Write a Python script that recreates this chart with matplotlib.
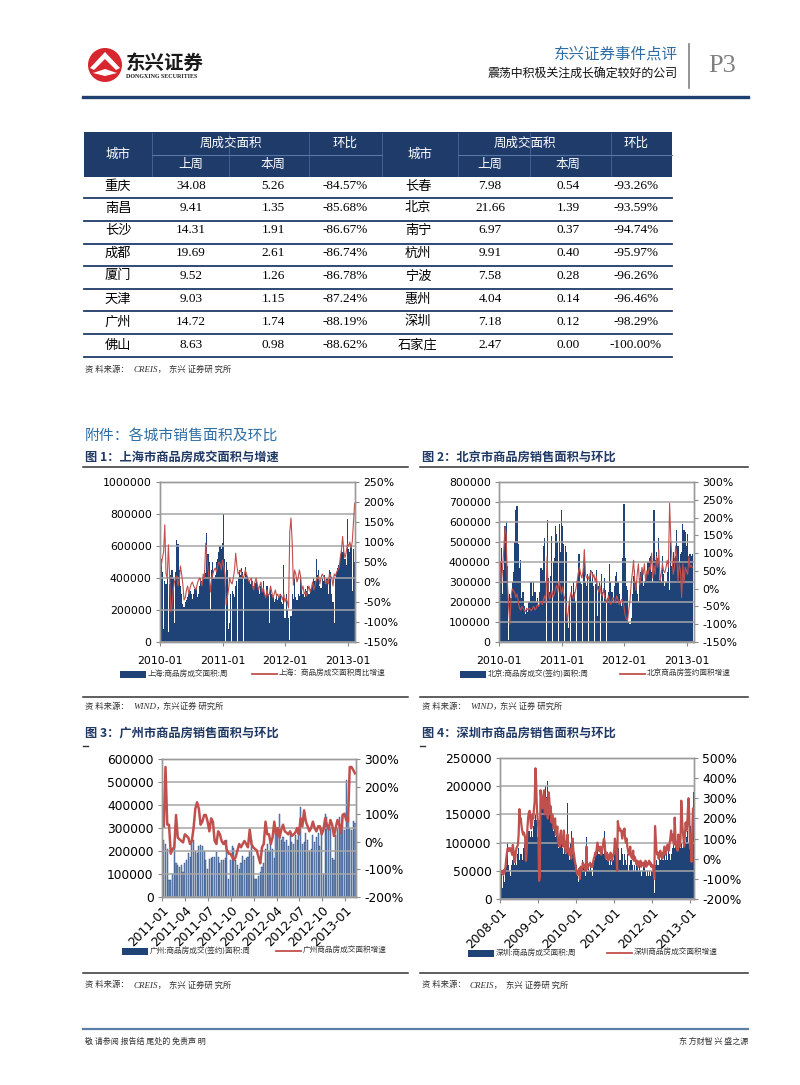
import numpy as np
import pandas as pd
import matplotlib
matplotlib.use('Agg')
import matplotlib.pyplot as plt
import matplotlib.dates as mdates
from matplotlib.patches import Rectangle, Ellipse, Polygon
from matplotlib.lines import Line2D
from matplotlib.ticker import FuncFormatter

# ---- table data ----
cities_l = ['重庆', '南昌', '长沙', '成都', '厦门', '天津', '广州', '佛山']
last_l = [34.08, 9.41, 14.31, 19.69, 9.52, 9.03, 14.72, 8.63]
this_l = [5.26, 1.35, 1.91, 2.61, 1.26, 1.15, 1.74, 0.98]
chg_l = [-84.57, -85.68, -86.67, -86.74, -86.78, -87.24, -88.19, -88.62]
cities_r = ['长春', '北京', '南宁', '杭州', '宁波', '惠州', '深圳', '石家庄']
last_r = [7.98, 21.66, 6.97, 9.91, 7.58, 4.04, 7.18, 2.47]
this_r = [0.54, 1.39, 0.37, 0.40, 0.28, 0.14, 0.12, 0.00]
chg_r = [-93.26, -93.59, -94.74, -95.97, -96.26, -96.46, -98.29, -100.00]

# ---- weekly chart data (area in 10k m2, growth in %) ----
# Shanghai, weeks from 2010-01-08
sh_area = [52, 44, 8, 38, 36, 40, 6, 36, 42, 45, 40, 12, 44, 64, 61, 45, 35, 30, 24, 22,
           25, 26, 28, 30, 32, 30, 27, 30, 33, 34, 28, 30, 35, 40, 38, 42, 45, 43, 68, 55,
           50, 20, 45, 50, 40, 42, 50, 52, 56, 60, 58, 62,
           80, 52, 50, 45, 8, 12, 30, 32, 30, 28, 35, 38, 40, 45, 42, 46, 44, 40, 47, 42,
           40, 38, 36, 40, 38, 35, 37, 38, 36, 34, 30, 35, 32, 38, 30, 28, 35, 30, 12, 35,
           30, 28, 25, 27, 30, 26, 28, 30, 25, 24, 48, 15,
           30, 20, 15, 1, 16, 30, 27, 40, 28, 26, 30, 29, 42, 35, 30, 28, 33, 32, 35, 30,
           33, 34, 36, 40, 38, 52, 42, 45, 35, 34, 40, 38, 42, 36, 40, 30, 45, 44, 30, 25,
           12, 40, 44, 46, 48, 55, 58, 56, 60, 52, 48, 77,
           58, 56, 60, 32, 58, 50]
sh_pct = [40, 60, 75, 143, 20, 10, 93, 15, -75, -60, -20, 0, 10, 15, -10, 5, 40, 20, -5, -45,
          -40, -20, -10, -30, -15, -5, 0, -10, -15, -20, -5, 5, 10, 0, -10, 20, 10, 97, 60, 30,
          10, -25, 10, 20, 30, 35, 25, 40, 50, 45, 30, 55,
          40, 20, -58, -40, -20, 10, 0, -5, 10, 30, 72, 40, 20, 25, 30, 20, 10, 15, 30, 20,
          10, 0, 5, 10, -10, -20, 0, 10, -5, -20, -10, 0, -25, -15, -30, -40, -20, -35, -30, -10,
          -25, -40, -30, -20, -35, -30, -40, -30, -35, -45, -30, -50,
          -40, -50, -65, 125, 160, 100, -8, 30, 20, 0, 10, 30, 15, -20, -10, -30, -25, -35, -20, -10,
          -25, -15, 0, -20, -10, 5, 10, 15, -5, 10, 20, 15, 10, -5, 5, -5, 20, 15, 10, -10,
          20, 15, 25, 30, 35, 60, 80, 114, 76, 60, 75, 95,
          90, 100, 85, 100, 150, 197]

# Beijing, weeks from 2010-01-08
bj_area = [40, 47, 24, 36, 58, 60, 38, 1, 24, 22, 30, 35, 50, 66, 68, 49, 37, 41, 22, 25,
           18, 14, 17, 15, 20, 30, 30, 23, 30, 25, 20, 22, 18, 25, 37, 36, 48, 52, 30, 61,
           32, 25, 33, 53, 40, 42, 58, 54, 50, 59, 45, 66,
           58, 49, 48, 45, 10, 7, 20, 28, 23, 30, 25, 20, 32, 44, 44, 30, 29, 37, 44, 30,
           28, 34, 33, 36, 30, 35, 28, 29, 36, 13, 28, 30, 34, 25, 20, 32, 26, 22, 25, 39,
           30, 25, 20, 28, 33, 35, 30, 24, 20, 18, 42, 69,
           42, 28, 26, 10, 9, 12, 24, 33, 36, 30, 24, 20, 32, 35, 36, 28, 30, 33, 35, 40,
           42, 43, 35, 30, 66, 41, 45, 42, 52, 31, 30, 43, 34, 28, 30, 35, 42, 26, 50, 38,
           45, 42, 43, 56, 48, 40, 44, 45, 59, 56, 55, 48,
           54, 43, 44, 43, 44]
bj_pct = [75, 15, 60, 110, 175, 150, 15, -50, -100, -25, 0, -5, -10, -25, -15, -35, -55, -60, -50, -55,
          -60, -65, -55, -60, -55, -58, -62, -55, -50, -60, -55, -45, -50, -40, -35, -45, -30, -20, -40, 90,
          -10, -30, -20, -5, -25, -15, 0, 10, -10, 20, 5, -15,
          5, -20, -30, -60, -90, -50, -25, -10, -20, -30, -15, 0, 20, 45, 60, 40, 30, 50, 110, 40,
          30, 35, 25, 45, 50, 30, 40, 20, 35, 0, -10, 10, -15, -20, 0, -25, -30, -40, -20, -35,
          -45, -30, -25, -40, -35, -20, -30, -45, -40, -30, -35, -50,
          -75, -85, -90, -60, -35, 15, 45, 80, 20, -5, 40, 70, 10, 30, 60, 40, 70, 20, 50, 40,
          60, 55, 100, 30, 65, 40, 90, 60, 110, 20, 40, 70, 50, 45, 60, 80, 60, 240, 135, 80,
          40, 60, 120, 90, 20, 70, 50, -25, 70, 15, 60, 50,
          40, 90, 60, 65, 60]

# Guangzhou, weeks from 2011-01-07
gz_area = [25, 23, 21, 7.5, 7.5, 10, 24, 15, 14, 13, 14, 11, 15, 16, 19, 17.5, 24, 25, 20, 19,
           22, 22.5, 22, 20, 16, 12, 16.5, 17, 17.5, 17.5, 19.5, 17.5, 15, 16, 16, 17, 25, 8, 16, 22,
           21.5, 16, 14, 12, 15, 18, 16, 17, 17.5, 20, 25, 18,
           8, 8, 9, 11, 13, 15, 21, 23, 20, 25, 21, 17, 28, 29, 36, 25, 26, 24, 25, 22,
           28, 24, 23, 27, 25, 30, 39, 23, 24, 28, 25, 20, 21, 27, 24, 26, 28, 22, 30, 10,
           36, 35, 31, 30, 17, 16, 27, 30, 35, 28, 36, 29,
           51, 35, 30, 29, 33, 32]
gz_pct = [56, 271, 62, 62, -43, -26, -20, 97, 15, 9, 3, -2, 27, 21, 15, -8, 3, 50, 120, 143,
          120, 62, 73, 97, 97, 73, 38, 85, 73, 3, -8, 38, 27, 3, -8, 3, -31, -43, -43, -55,
          -66, -55, -31, -8, -20, -8, 3, -8, -20, 44, -8, -20,
          -26, -31, -55, -78, -20, -8, 73, 27, 27, -8, 15, 73, 27, 50, 15, 44, 62, 38, 33, 27,
          38, 21, 27, 33, 50, 27, 85, 56, 114, 73, 56, 38, 50, 73, 50, 38, 56, 56, 27, 44,
          85, 62, 44, 79, 62, 21, 50, 79, 62, 33, 97, 102,
          79, 73, 271, 271, 260, 248]

# Shenzhen, weeks from 2008-01-04
sz_area = [6, 5, 3, 2, 4, 1, 3, 5, 6, 5, 10, 6, 5, 7, 4, 6, 5, 7, 8, 6,
           5, 7, 6, 8, 8, 9, 7, 9, 8, 8, 7, 9, 9, 10, 9, 11, 10, 11, 9, 12,
           12, 11, 13, 12, 11, 13, 12, 14, 15, 14, 13, 11,
           12, 1, 14, 17, 19, 20, 16, 18, 17, 19, 20, 18, 17, 21, 16, 15, 18, 14, 16, 15,
           13, 12, 14, 12, 11, 12, 10, 11, 9, 10, 12, 11, 10, 9, 8, 10, 9, 8, 10, 9,
           17, 9, 8, 7, 10, 12, 9, 8, 10, 9, 8, 6,
           6, 5, 4, 3, 5, 1, 4, 5, 5, 7, 6, 6, 5, 4, 11, 5, 5, 6, 5, 7,
           6, 5, 4, 6, 6, 7, 8, 7, 8, 9, 8, 7, 8, 9, 7, 8, 9, 8, 21, 12,
           8, 7, 9, 8, 7, 8, 6, 7, 6, 8, 7, 7,
           8, 15, 9, 7, 3, 8, 9, 7, 6, 7, 9, 8, 7, 6, 8, 9, 7, 6, 8, 7,
           5, 6, 7, 8, 7, 6, 5, 7, 6, 5, 6, 7, 6, 5, 7, 6, 5, 4, 6, 5,
           6, 5, 6, 5, 4, 6, 5, 4, 5, 6, 4, 5,
           6, 5, 4, 1, 5, 6, 7, 6, 7, 6, 8, 7, 6, 8, 7, 8, 7, 8, 7, 6,
           8, 7, 9, 8, 8, 7, 9, 8, 9, 10, 8, 9, 10, 9, 8, 10, 9, 11, 10, 9,
           10, 11, 9, 10, 12, 11, 10, 11, 11, 12, 10, 11,
           10, 13, 9, 15, 17, 19]
sz_pct = [-65, -70, -60, -66, -80, -55, -66, -40, 0, 30, 52, 40, 52, 40, 52, 35, 20, 69, 40, -15,
          -15, 30, 52, 60, 70, 120, 246, 200, 200, 160, 137, 120, 130, 120, 100, -10, 40, 150, 204, 230,
          238, 200, 150, 160, 220, 200, 250, 288, 449, 380, 250, 200,
          150, -110, -90, 340, 300, 280, 250, 320, 340, 220, 300, 280, 250, 200, 330, 300, 220, 260, 180, 220,
          200, 150, 180, 200, 120, 130, 160, 80, 100, 60, 120, 140, 90, 80, 60, 140, 90, 50, 30, 80,
          120, 40, 20, 50, 30, 0, 60, 100, 40, 20, -10, -30,
          -60, -70, -80, -60, -50, -100, -40, -60, -50, -20, -40, -30, -40, -60, 60, -50, -40, -30, -30, -20,
          -40, -30, -40, -20, 0, 10, 30, 20, 50, 80, 60, 40, 40, 60, 20, 30, 50, 80, 100, 80,
          20, 0, 30, 10, -10, 20, 0, 30, 20, -10, 10, 20,
          40, 100, 60, 40, -60, 187, 160, 140, 150, 140, 130, 100, 140, 120, 150, 100, 80, 100, 60, 40,
          20, 30, 60, 10, 20, 0, 40, -10, 10, 0, -20, -30, -10, -40, -20, -30, -10, -40, -20, -30,
          -20, -40, -30, -10, -40, -20, -30, -20, -10, -30, -20, -40,
          -30, -40, -60, -100, 162, 100, 40, 20, 30, 0, 20, 40, 10, 30, 0, 20, 40, 60, 20, 30,
          50, 70, 60, 40, 80, 100, 140, 90, 120, 100, 70, 204, 100, 60, 80, 40, 120, 90, 60, 100,
          288, 200, 140, 100, 60, 120, 180, 140, 160, 240, 300, 200,
          50, 120, -15, 130, 250, 246]

W, H = 800, 1085
NAVY = '#1F4277'
RED = '#C0504D'
GRID = '#A6A6A6'
CJK = ['Noto Sans CJK SC', 'DejaVu Sans']
SERIF = ['Liberation Serif', 'Noto Sans CJK SC', 'DejaVu Serif']

fig = plt.figure(figsize=(W / 100, H / 100), dpi=100)


def fx(x):
    return x / W


def fy(y):
    return 1 - y / H


def text(x, y, s, size, **kw):
    kw.setdefault('family', CJK)
    kw.setdefault('va', 'center')
    fig.text(fx(x), fy(y), s, fontsize=size, **kw)


def hline(x0, x1, y, color, lw):
    fig.add_artist(Line2D([fx(x0), fx(x1)], [fy(y), fy(y)], color=color, lw=lw))


def vline(x, y0, y1, color, lw):
    fig.add_artist(Line2D([fx(x), fx(x)], [fy(y0), fy(y1)], color=color, lw=lw))


def box(x0, y0, x1, y1, color):
    fig.add_artist(Rectangle((fx(x0), fy(y1)), fx(x1) - fx(x0), fy(y0) - fy(y1),
                             facecolor=color, lw=0))


# ---- page header ----
fig.add_artist(Ellipse((fx(105), fy(65)), 34 / W, 34 / H, facecolor='#D7262E', lw=0))
fig.add_artist(Polygon([(fx(90), fy(68)), (fx(105), fy(52)), (fx(120), fy(68)), (fx(116), fy(70)),
                        (fx(105), fy(59)), (fx(94), fy(70))], facecolor='white', lw=0))
fig.add_artist(Polygon([(fx(93), fy(73)), (fx(105), fy(69)), (fx(117), fy(73)), (fx(105), fy(76))],
                       facecolor='white', lw=0))
text(126, 63, '东兴证券', 14, weight='bold', color='#1A1A1A')
text(126, 77, 'DONGXING SECURITIES', 4.3, family=SERIF, weight='bold', color='#1A1A1A')
text(678, 54, '东兴证券事件点评', 11.2, ha='right', color='#2F6DA3')
text(678, 73, '震荡中积极关注成长确定较好的公司', 8.6, ha='right', color='#111111')
vline(689, 44, 88, '#808080', 1.2)
text(722, 66, 'P3', 19, family=SERIF, ha='center', color='#7F7F7F')
hline(83, 748, 97, '#1F3F6E', 2.4)

# ---- table ----
HDR = '#1F3B6A'
box(84, 132, 672, 177, HDR)
for xv in [152, 229, 309, 382, 458, 530, 611]:
    vline(xv, 133, 176, '#48679A', 0.6)
hline(152, 382, 155, '#5876A6', 0.8)
hline(458, 672, 155, '#5876A6', 0.8)
for cx, tx in [(118, '城市'), (420, '城市')]:
    text(cx, 154, tx, 9, ha='center', color='white')
for cx, tx in [(231, '周成交面积'), (345, '环比'), (525, '周成交面积'), (636, '环比')]:
    text(cx, 143, tx, 9, ha='center', color='white')
for cx, tx in [(191, '上周'), (273, '本周'), (490, '上周'), (568, '本周')]:
    text(cx, 164, tx, 9, ha='center', color='white')

row_y = [186, 208, 230, 253, 276, 299, 322, 345]
row_line = [198, 221, 244, 266, 289, 311, 334, 357]
for i in range(len(cities_l)):
    y = row_y[i]
    text(118, y, cities_l[i], 9.5, ha='center', color='black')
    text(191, y, f'{last_l[i]:.2f}', 9.5, family=SERIF, ha='center', color='black')
    text(273, y, f'{this_l[i]:.2f}', 9.5, family=SERIF, ha='center', color='black')
    text(345, y, f'{chg_l[i]:.2f}%', 9.5, family=SERIF, ha='center', color='black')
    text(418, y, cities_r[i], 9.5, ha='center', color='black')
    text(490, y, f'{last_r[i]:.2f}', 9.5, family=SERIF, ha='center', color='black')
    text(568, y, f'{this_r[i]:.2f}', 9.5, family=SERIF, ha='center', color='black')
    text(636, y, f'{chg_r[i]:.2f}%', 9.5, family=SERIF, ha='center', color='black')
    hline(84, 672, row_line[i], HDR, 1.3)


def source(x, y, org, rest):
    text(x, y, '资 料来源：', 6, color='#333333')
    text(x + 48, y, org, 6.5, family=SERIF, style='italic', color='#333333')
    text(x + 50 + 5.6 * len(org), y, rest, 6, color='#333333')


source(85, 369, 'CREIS，', '东兴 证券研 究所')

# ---- section + chart titles ----
text(85, 436, '附件：各城市销售面积及环比', 10.7, color='#2F6EA5')
TTL = '#1F3864'
text(85, 457, '图 1：上海市商品房成交面积与增速', 8.8, weight='bold', color=TTL)
text(422, 457, '图 2：北京市商品房销售面积与环比', 8.8, weight='bold', color=TTL)
hline(83, 408, 467, '#333333', 1.1)
hline(420, 748, 467, '#333333', 1.1)
hline(83, 408, 697, '#333333', 1.1)
hline(420, 748, 697, '#333333', 1.1)
source(85, 706, 'WIND，', '东兴证券 研究所')
source(422, 706, 'WIND，', '东兴 证券 研究所')

text(85, 733, '图 3：广州市商品房销售面积与环比', 8.8, weight='bold', color=TTL)
text(422, 733, '图 4：深圳市商品房销售面积与环比', 8.8, weight='bold', color=TTL)
hline(83, 88, 746, '#333333', 1.0)
hline(420, 425, 746, '#333333', 1.0)
hline(83, 408, 973, '#333333', 1.1)
hline(420, 748, 973, '#333333', 1.1)
source(85, 985, 'CREIS，', '东兴 证券研 究所')
source(422, 985, 'CREIS，', '东兴 证券研 究所')

# ---- footer ----
hline(83, 748, 1029, '#5B7DA6', 1.6)
text(85, 1041, '敬 请参阅 报告结 尾处的 免责声 明', 5.8, color='#333333')
text(748, 1041, '东 方财智 兴 盛之源', 5.8, ha='right', color='#333333')


def legend(px, y, lab1, lx, lab2):
    box(px, y - 3.5, px + 26, y + 3.5, NAVY)
    text(px + 28, y, lab1, 5.5, color='#333333')
    hline(lx, lx + 25, y, RED, 1.3)
    text(lx + 27, y, lab2, 5.5, color='#333333')


def chart(l, t, r, b, start, area, pct, lmax, lstep, rlim, rstep, xlim, xt, rot, fs,
          bar_w, bar_fc, bar_ec, lw):
    ax = fig.add_axes([fx(l), fy(b), fx(r) - fx(l), fy(t) - fy(b)])
    d_area = pd.date_range(start, periods=len(area), freq='7D')
    d_pct = pd.date_range(start, periods=len(pct), freq='7D')
    ax.bar(d_area, np.array(area) * 1e4, width=bar_w, facecolor=bar_fc,
           edgecolor=bar_ec if bar_ec else bar_fc, linewidth=0.3 if bar_ec else 0)
    ax.set_ylim(0, lmax)
    ax.set_yticks(np.arange(0, lmax + 1, lstep))
    ax.yaxis.set_major_formatter(FuncFormatter(lambda v, _: f'{v:.0f}'))
    ax.grid(axis='y', color=GRID, lw=1.1)
    ax.set_axisbelow(False)
    ax.set_xlim(pd.Timestamp(xlim[0]), pd.Timestamp(xlim[1]))
    ax.set_xticks(pd.to_datetime(xt))
    ax.xaxis.set_major_formatter(mdates.DateFormatter('%Y-%m'))
    ax2 = ax.twinx()
    ax2.plot(d_pct, pct, color=RED, lw=lw)
    ax2.set_ylim(*rlim)
    ax2.set_yticks(np.arange(rlim[0], rlim[1] + 1, rstep))
    ax2.yaxis.set_major_formatter(FuncFormatter(lambda v, _: f'{v:.0f}%'))
    ax2.set_xlim(pd.Timestamp(xlim[0]), pd.Timestamp(xlim[1]))
    for a in (ax, ax2):
        for s in a.spines.values():
            s.set_color('#9A9A9A')
            s.set_linewidth(1.0)
        a.tick_params(colors='#8A8A8A', labelcolor='black', labelsize=fs, length=3, width=0.8,
                      direction='out', pad=3)
    if rot:
        ax.tick_params(axis='x', pad=2)
        for lab in ax.get_xticklabels():
            lab.set_rotation(45)
            lab.set_ha('right')
            lab.set_rotation_mode('anchor')
    else:
        ax.tick_params(axis='x', pad=7)
    return ax


chart(160, 482, 355, 642, '2010-01-08', sh_area, sh_pct, 1000000, 200000, (-150, 250), 50,
      ('2010-01-01', '2013-02-10'), ['2010-01-01', '2011-01-01', '2012-01-01', '2013-01-01'],
      False, 7.8, 6.8, NAVY, None, 0.8)
legend(120, 674, '上海:商品房成交面积:周', 252, '上海：商品房成交面积周比增速')

chart(499, 482, 694, 642, '2010-01-08', bj_area, bj_pct, 800000, 100000, (-150, 300), 50,
      ('2010-01-01', '2013-02-10'), ['2010-01-01', '2011-01-01', '2012-01-01', '2013-01-01'],
      False, 7.8, 6.5, NAVY, None, 0.8)
legend(460, 674, '北京:商品房成交(签约)面积:周', 620, '北京商品房签约面积增速')

chart(162, 759, 356, 897, '2011-01-07', gz_area, gz_pct, 600000, 100000, (-200, 300), 100,
      ('2010-12-31', '2013-02-12'),
      ['2011-01-01', '2011-04-01', '2011-07-01', '2011-10-01', '2012-01-01', '2012-04-01',
       '2012-07-01', '2012-10-01', '2013-01-01'],
      True, 8.8, 4.5, '#7E98C3', NAVY, 1.8)
legend(122, 951, '广州:商品房成交(签约)面积:周', 276, '广州商品房成交面积增速')

chart(500, 758, 694, 899, '2008-01-04', sz_area, sz_pct, 250000, 50000, (-200, 500), 100,
      ('2007-12-31', '2013-02-04'),
      ['2008-01-01', '2009-01-01', '2010-01-01', '2011-01-01', '2012-01-01', '2013-01-01'],
      True, 8.8, 7, NAVY, None, 1.6)
legend(468, 953, '深圳:商品房成交面积:周', 607, '深圳商品房成交面积增速')

fig.savefig('out.png', dpi=100)
